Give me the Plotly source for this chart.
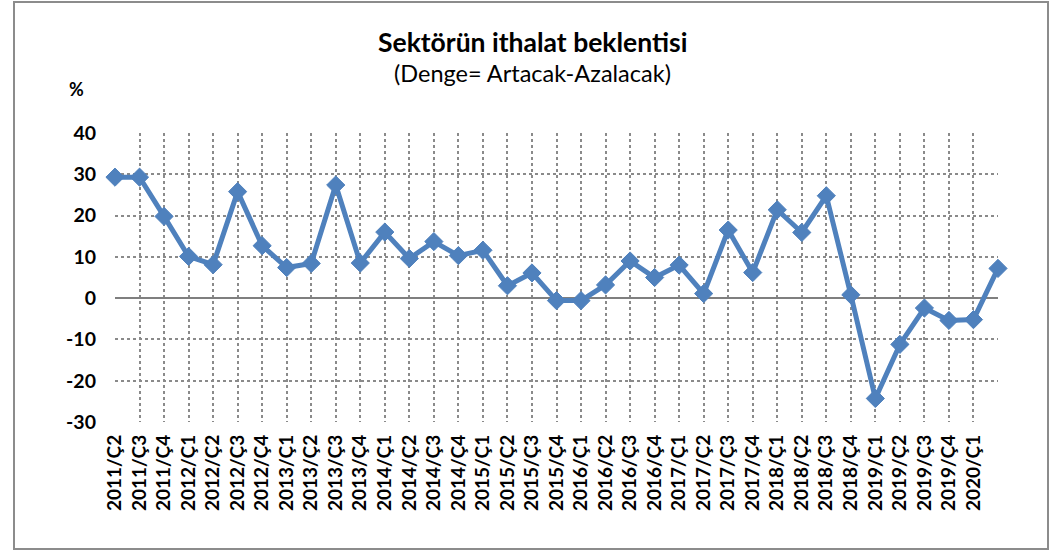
import plotly.graph_objects as go

categories = [
    "2011/Ç2", "2011/Ç3", "2011/Ç4",
    "2012/Ç1", "2012/Ç2", "2012/Ç3", "2012/Ç4",
    "2013/Ç1", "2013/Ç2", "2013/Ç3", "2013/Ç4",
    "2014/Ç1", "2014/Ç2", "2014/Ç3", "2014/Ç4",
    "2015/Ç1", "2015/Ç2", "2015/Ç3", "2015/Ç4",
    "2016/Ç1", "2016/Ç2", "2016/Ç3", "2016/Ç4",
    "2017/Ç1", "2017/Ç2", "2017/Ç3", "2017/Ç4",
    "2018/Ç1", "2018/Ç2", "2018/Ç3", "2018/Ç4",
    "2019/Ç1", "2019/Ç2", "2019/Ç3", "2019/Ç4",
    "2020/Ç1", "",
]
values = [
    29.3, 29.3, 19.8,
    10.1, 8.1, 25.8, 12.7,
    7.4, 8.4, 27.4, 8.5,
    16.0, 9.6, 13.7, 10.3,
    11.6, 3.0, 6.1, -0.6,
    -0.6, 3.2, 9.0, 5.0,
    8.0, 1.1, 16.5, 6.2,
    21.4, 15.9, 24.8, 0.8,
    -24.3, -11.2, -2.4, -5.4,
    -5.2, 7.2,
]
y_ticks = [-30, -20, -10, 0, 10, 20, 30, 40]
y_tick_labels = ["-30", "-20", "-10", "0", "10", "20", "30", "40"]

W, H = 1061, 551
L, R, T, B = 115, 998, 133, 422  # plot area in pixels


def px_x(x):
    return (x - L) / (R - L)


def px_y(y):
    return (B - y) / (B - T)


idx = list(range(len(categories)))
blue = "#4F81BD"
grid = "#8a8a8a"
font_family = "Lato, 'Noto Sans', sans-serif"

fig = go.Figure()
fig.add_trace(go.Scatter(
    x=idx, y=values, mode="lines+markers",
    line=dict(color=blue, width=5),
    marker=dict(symbol="diamond", size=14, color=blue, line=dict(color=blue, width=1)),
    cliponaxis=False,
    hoverinfo="y",
))

fig.update_layout(
    width=W, height=H,
    margin=dict(l=L, r=W - R, t=T, b=H - B),
    paper_bgcolor="white", plot_bgcolor="white",
    showlegend=False,
    font=dict(family=font_family, color="black"),
    xaxis=dict(
        range=[0, len(categories) - 1],
        tickvals=idx, ticktext=categories,
        tickangle=-90,
        tickfont=dict(size=19, family=font_family, weight="bold"),
        showgrid=True, gridcolor=grid, griddash="dot", gridwidth=1.5,
        zeroline=False, showline=False, ticks="",
        ticklabelstandoff=8,
        fixedrange=True,
    ),
    yaxis=dict(
        range=[-30, 40],
        tickvals=y_ticks, ticktext=y_tick_labels,
        tickfont=dict(size=19.5, family=font_family, weight="bold"),
        showgrid=True, gridcolor=grid, griddash="dot", gridwidth=1.5,
        zeroline=True, zerolinecolor="#7f7f7f", zerolinewidth=2,
        showline=False, ticks="",
        ticklabelstandoff=18,
        fixedrange=True,
    ),
    annotations=[
        dict(text="<b>Sektörün ithalat beklentisi</b>", x=px_x(532), y=px_y(42),
             xref="paper", yref="paper", showarrow=False,
             font=dict(size=26.5, family=font_family), xanchor="center", yanchor="middle"),
        dict(text="(Denge= Artacak-Azalacak)", x=px_x(532), y=px_y(73),
             xref="paper", yref="paper", showarrow=False,
             font=dict(size=23.5, family=font_family), xanchor="center", yanchor="middle"),
        dict(text="<b>%</b>", x=px_x(76), y=px_y(89),
             xref="paper", yref="paper", showarrow=False,
             font=dict(size=18, family=font_family), xanchor="center", yanchor="middle"),
    ],
    shapes=[
        dict(type="rect", xref="paper", yref="paper",
             x0=px_x(14), x1=px_x(1048), y0=px_y(549), y1=px_y(2),
             line=dict(color="#8c8c8c", width=2), fillcolor="rgba(0,0,0,0)", layer="below"),
    ],
)

fig.write_html(
    "out.html",
    config={"displayModeBar": False},
    post_script="document.body.style.margin='0';document.body.style.overflow='hidden';",
)
